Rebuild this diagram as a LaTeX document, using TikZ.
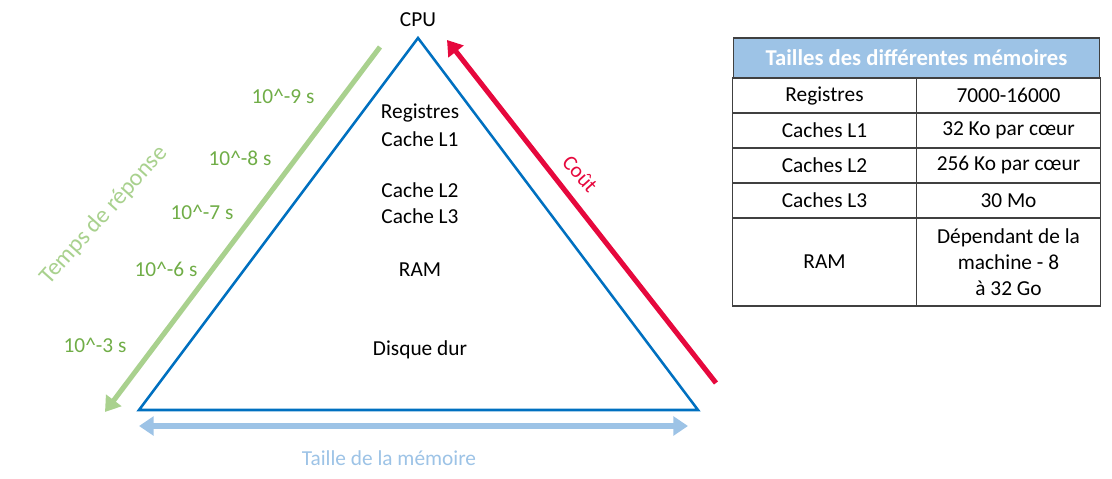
\documentclass[tikz,border=0pt]{standalone}
\usepackage{fontspec}
\setmainfont{Carlito}
\usetikzlibrary{arrows.meta,positioning}
\definecolor{triblue}{HTML}{0070C0}
\definecolor{timegreen}{HTML}{A9D18E}
\definecolor{darkgreen}{HTML}{70AD47}
\definecolor{costred}{HTML}{E6083D}
\definecolor{sizeblue}{HTML}{9DC3E6}
\definecolor{gridgray}{HTML}{404040}

\begin{document}
\begin{tikzpicture}[x=0.75pt,y=-0.75pt]
\tikzstyle{every node}+=[inner sep=0pt, font=\fontsize{16}{19.5}\selectfont, align=center]
\tikzstyle{bigarrow}=[line width=3.8pt, -{Triangle[width=14pt,length=11pt]}]
\tikzstyle{cell}=[draw=gridgray, line width=0.8pt, minimum width=137.5pt, minimum height=26.25pt]
\useasboundingbox (0,0) rectangle (1112,478);
% pyramid
\coordinate (top) at (418,38);
\coordinate (bl) at (139,410);
\coordinate (br) at (698,410);
\draw [triblue, line width=1.9pt, line join=miter] (top) -- (bl) -- (br) -- cycle;
\node (cpu) at (418,20) {CPU};
\node (reg) at (420,113) {Registres};
\node (l1) at (420,139) {Cache L1};
\node (l2) at (420,190) {Cache L2};
\node (l3) at (420,216) {Cache L3};
\node (ram) at (420,270) {RAM};
\node (hdd) at (420,350) {Disque dur};
% response time
\coordinate (g0) at (380,47);
\coordinate (g1) at (105,412);
\draw [bigarrow, timegreen] (g0) -- (g1);
\node [text=timegreen, rotate=48, font=\fontsize{18}{21}\selectfont] (tps) at (104,215) {Temps de réponse};
\node [text=darkgreen] (t9) at (283,96) {10\^{}-9 s};
\node [text=darkgreen] (t8) at (240,158) {10\^{}-8 s};
\node [text=darkgreen] (t7) at (202,212) {10\^{}-7 s};
\node [text=darkgreen] (t6) at (166,269) {10\^{}-6 s};
\node [text=darkgreen] (t3) at (95,345) {10\^{}-3 s};
% cost
\coordinate (r0) at (716,383);
\coordinate (r1) at (447,40);
\draw [bigarrow, costred] (r0) -- (r1);
\node [text=costred, rotate=-48] (cout) at (580,174) {Coût};
% size
\coordinate (s0) at (139,426);
\coordinate (s1) at (688,426);
\draw [bigarrow, sizeblue, {Triangle[width=14pt,length=11pt]}-{Triangle[width=14pt,length=11pt]}] (s0) -- (s1);
\node [text=sizeblue] (taille) at (389,458) {Taille de la mémoire};
% table
\node [cell, fill=sizeblue, minimum width=275pt, minimum height=30pt, text=white, font=\fontsize{17}{20}\selectfont\bfseries] (head) at (916.5,58) {Tailles des différentes mémoires};
\node [cell] (c11) at (824.5,95.5) {Registres};
\node [cell] (c12) at (1008.5,95.5) {7000-16000};
\node [cell] (c21) at (824.5,130.5) {Caches L1};
\node [cell] (c22) at (1008.5,130.5) {32 Ko par cœur};
\node [cell] (c31) at (824.5,165.5) {Caches L2};
\node [cell] (c32) at (1008.5,165.5) {256 Ko par cœur};
\node [cell] (c41) at (824.5,200.5) {Caches L3};
\node [cell] (c42) at (1008.5,200.5) {30 Mo};
\node [cell, minimum height=66pt] (c51) at (824.5,262) {RAM};
\node [cell, minimum height=66pt] (c52) at (1008.5,262) {Dépendant de la\\machine - 8\\à 32 Go};
\end{tikzpicture}
\end{document}
